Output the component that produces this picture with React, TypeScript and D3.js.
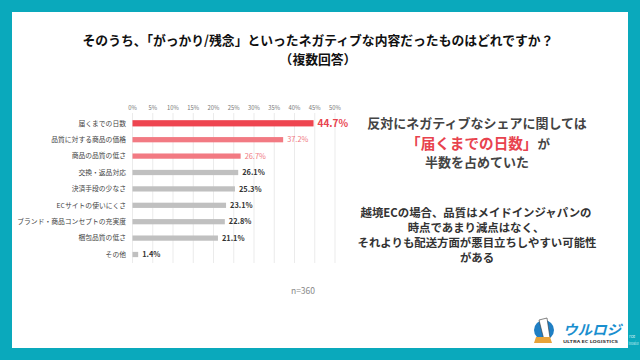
import React from "react";
import * as d3 from "d3";

const categories = [
  "届くまでの日数",
  "品質に対する商品の価格",
  "商品の品質の低さ",
  "交換・返品対応",
  "決済手段の少なさ",
  "ECサイトの使いにくさ",
  "ブランド・商品コンセプトの充実度",
  "梱包品質の低さ",
  "その他",
];
const values = [44.7, 37.2, 26.7, 26.1, 25.3, 23.1, 22.8, 21.1, 1.4];
const tickValues = [0, 5, 10, 15, 20, 25, 30, 35, 40, 45, 50];

const TEAL = "#0aa9bc";
const FONT = "'Noto Sans CJK JP', 'Noto Sans', sans-serif";

export default function App() {
  const x = d3.scaleLinear().domain([0, 50]).range([132.5, 335]);
  const y = d3
    .scaleBand<string>()
    .domain(categories)
    .range([115.1, 262.7])
    .paddingInner(0.68)
    .paddingOuter(0.34);

  const barColor = (i: number) => (i === 0 ? "#ee4550" : i < 3 ? "#f27a83" : "#c0c0c0");
  const labelColor = (i: number) => (i === 0 ? "#e8434e" : i < 3 ? "#f07a82" : "#333");

  return (
    <svg
      width={640}
      height={360}
      style={{ position: "absolute", left: 0, top: 0, fontFamily: FONT }}
    >
      <rect x={0} y={0} width={640} height={360} fill="#fff" />
      {/* frame */}
      <rect x={0} y={0} width={640} height={12} fill={TEAL} />
      <rect x={0} y={0} width={12} height={360} fill={TEAL} />
      <rect x={628} y={0} width={12} height={360} fill={TEAL} />
      <rect x={0} y={348} width={640} height={12} fill={TEAL} />

      {/* title */}
      <text x={318} y={45} textAnchor="middle" fontSize={12.8} fontWeight={700} fill="#111">
        そのうち、「がっかり/残念」といったネガティブな内容だったものはどれですか？
      </text>
      <text x={318} y={63.6} textAnchor="middle" fontSize={12.8} fontWeight={700} fill="#111">
        （複数回答）
      </text>

      {/* gridlines & ticks */}
      {tickValues.map((t) => (
        <g key={t}>
          <line x1={x(t)} x2={x(t)} y1={113} y2={263} stroke="#e6e6e6" strokeWidth={0.8} />
          <text x={x(t)} y={110} textAnchor="middle" fontSize={5.8} fill="#777">
            {t}%
          </text>
        </g>
      ))}

      {/* bars */}
      {categories.map((c, i) => {
        const by = y(c)!;
        const bh = y.bandwidth();
        const h = i === 0 ? bh + 1 : bh;
        const yy = by + bh / 2 - h / 2;
        return (
          <g key={c}>
            <text
              x={126}
              y={by + bh / 2}
              dy="0.35em"
              textAnchor="end"
              fontSize={6.8}
              fill="#444"
            >
              {c}
            </text>
            <rect x={x(0)} y={yy} width={x(values[i]) - x(0)} height={h} fill={barColor(i)} />
            <text
              x={x(values[i]) + 4}
              y={by + bh / 2}
              dy="0.36em"
              fontSize={i === 0 ? 10 : 7.4}
              fontWeight={i === 0 || i >= 3 ? 700 : 400}
              fill={labelColor(i)}
            >
              {values[i].toFixed(1)}%
            </text>
          </g>
        );
      })}

      <text x={303} y={294} textAnchor="middle" fontSize={8.5} fill="#888">
        n=360
      </text>

      {/* right commentary */}
      <g fontWeight={700} textAnchor="middle">
        <text x={477} y={128} fontSize={13} fill="#444">
          反対にネガティブなシェアに関しては
        </text>
        <text x={478} y={148.5} fontSize={14.6} fill="#e8434e">
          「届くまでの日数」
          <tspan fontSize={12.5} fill="#444">が</tspan>
        </text>
        <text x={477} y={167} fontSize={13} fill="#444">
          半数を占めていた
        </text>
        <g fontSize={11.4} fill="#333">
          <text x={476} y={217}>越境ECの場合、品質はメイドインジャパンの</text>
          <text x={476} y={232}>時点であまり減点はなく、</text>
          <text x={477} y={247}>それよりも配送方面が悪目立ちしやすい可能性</text>
          <text x={477} y={262}>がある</text>
        </g>
      </g>

      {/* logo */}
      <g>
        <circle cx={544} cy={330} r={10} fill="#1f7fc4" />
        <path d="M539 320 L547 318 L550 338 L544 340 Z" fill="#fff" stroke="#333" strokeWidth={0.6} />
        <path d="M536 337 L550 337 L552 343 L534 343 Z" fill="#e8a33a" />
        <text x={563} y={335} fontSize={14} fontWeight={700} fill="#1a8fcf" fontStyle="italic" textLength={58} lengthAdjust="spacingAndGlyphs">
          ウルロジ
        </text>
        <text x={563} y={343} fontSize={3.6} fontWeight={700} fill="#333" textLength={55} lengthAdjust="spacingAndGlyphs">
          ULTRA EC LOGISTICS
        </text>
        <text transform="translate(629,338) scale(0.8,1)" fontSize={5.5} fill="#cfeef2">
          rce
        </text>
        <text transform="translate(628.5,344.5) scale(0.45,1)" fontSize={4.5} fill="#cfeef2">
          Innovation
        </text>
      </g>
    </svg>
  );
}
